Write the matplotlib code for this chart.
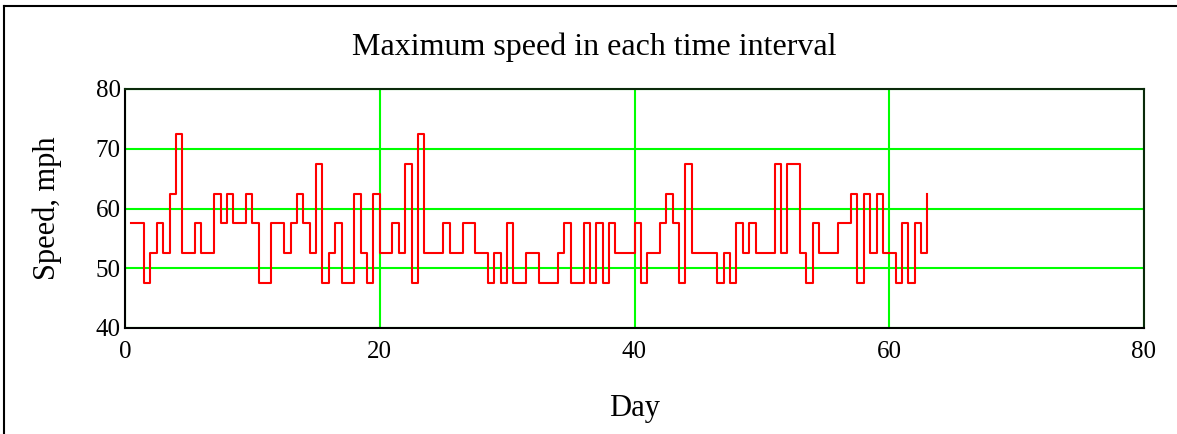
import numpy as np
import matplotlib
matplotlib.use("Agg")
import matplotlib.pyplot as plt
from matplotlib.lines import Line2D

plt.rcParams['font.family'] = ['Liberation Serif', 'DejaVu Serif']

# Time intervals: half a day each, first interval starts at day 0.5
first_day = 0.5
interval = 0.5

# Maximum speed (mph) in each interval
max_speed = [
    57.5, 57.5, 47.5, 52.5, 57.5, 52.5, 62.5, 72.5, 52.5, 52.5,
    57.5, 52.5, 52.5, 62.5, 57.5, 62.5, 57.5, 57.5, 62.5, 57.5,
    47.5, 47.5, 57.5, 57.5, 52.5, 57.5, 62.5, 57.5, 52.5, 67.5,
    47.5, 52.5, 57.5, 47.5, 47.5, 62.5, 52.5, 47.5, 62.5, 52.5,
    52.5, 57.5, 52.5, 67.5, 47.5, 72.5, 52.5, 52.5, 52.5, 57.5,
    52.5, 52.5, 57.5, 57.5, 52.5, 52.5, 47.5, 52.5, 47.5, 57.5,
    47.5, 47.5, 52.5, 52.5, 47.5, 47.5, 47.5, 52.5, 57.5, 47.5,
    47.5, 57.5, 47.5, 57.5, 47.5, 57.5, 52.5, 52.5, 52.5, 57.5,
    47.5, 52.5, 52.5, 57.5, 62.5, 57.5, 47.5, 67.5, 52.5, 52.5,
    52.5, 52.5, 47.5, 52.5, 47.5, 57.5, 52.5, 57.5, 52.5, 52.5,
    52.5, 67.5, 52.5, 67.5, 67.5, 52.5, 47.5, 57.5, 52.5, 52.5,
    52.5, 57.5, 57.5, 62.5, 47.5, 62.5, 52.5, 62.5, 52.5, 52.5,
    47.5, 57.5, 47.5, 57.5, 52.5, 62.5,
]
day = first_day + interval * np.arange(len(max_speed))

x_ticks = [0, 20, 40, 60, 80]
y_ticks = [40, 50, 60, 70, 80]

W, H = 1177, 434
fig = plt.figure(figsize=(W / 100, H / 100), dpi=100)
ax = fig.add_axes([125 / W, 1 - 328 / H, (1144 - 125) / W, (328 - 89) / H])

ax.plot(day, max_speed, drawstyle='steps-post', color='#ff0000', lw=1.5, zorder=3)

ax.set_xlim(0, 80)
ax.set_ylim(40, 80)
ax.set_xticks(x_ticks)
ax.set_yticks(y_ticks)
ax.grid(True, color='#00ff00', lw=1.5)
ax.tick_params(length=0, labelsize=18)
ax.tick_params(axis='x', pad=9)
ax.tick_params(axis='y', pad=3)
for side in ['left', 'bottom']:
    ax.spines[side].set_color('black')
    ax.spines[side].set_linewidth(1.5)
for side in ['top', 'right']:
    ax.spines[side].set_color('#0a2a0a')
    ax.spines[side].set_linewidth(1.5)

ax.set_xlabel('Day', fontsize=22, labelpad=23)
ax.set_ylabel('Speed, mph', fontsize=22, labelpad=24)

fig.text(594 / W, 1 - 55 / H, 'Maximum speed in each time interval',
         fontsize=23, ha='center', va='baseline')

# outer frame (top and left edges)
fig.add_artist(Line2D([4 / W, 4 / W], [0, 1 - 6 / H], color='black', lw=1.5,
                      transform=fig.transFigure))
fig.add_artist(Line2D([4 / W, 1], [1 - 6 / H, 1 - 6 / H], color='black', lw=1.5,
                      transform=fig.transFigure))

fig.savefig('out.png', dpi=100)
